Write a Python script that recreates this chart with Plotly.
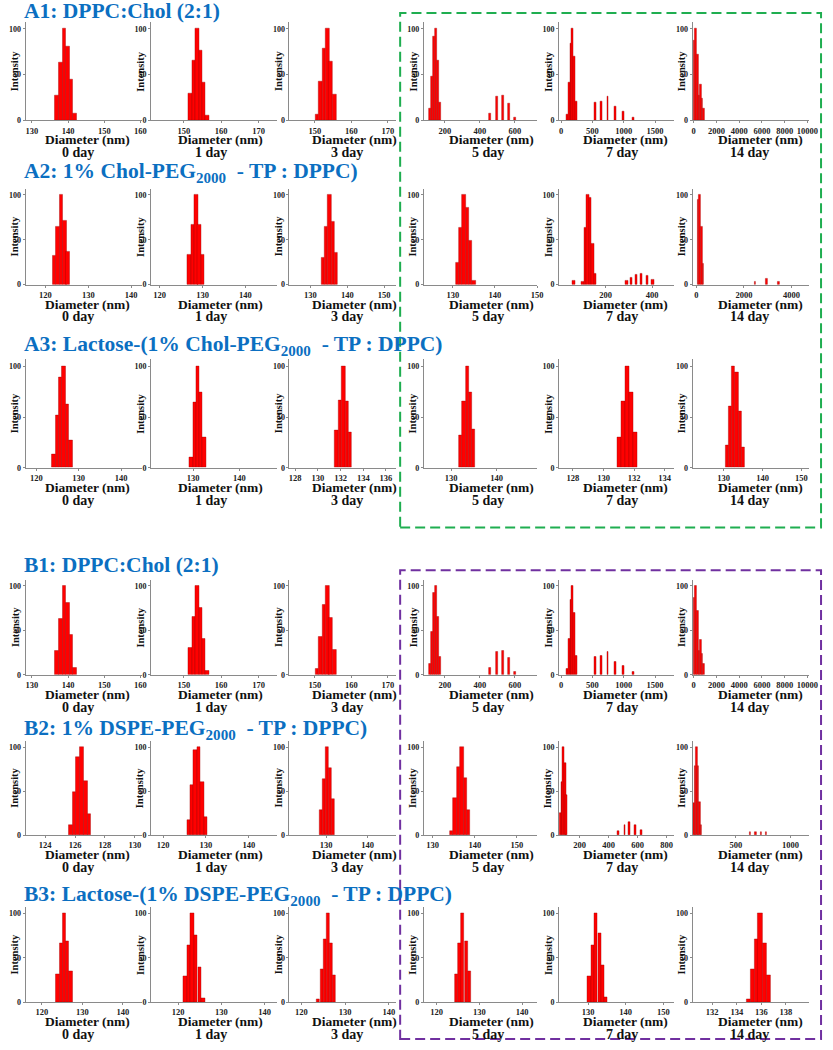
import plotly.graph_objects as go

# ---------------- data ----------------
DAYS = ["0 day", "1 day", "3 day", "5 day", "7 day", "14 day"]

# A1 / B1: DPPC:Chol (2:1)
A1_centers = [
    [136.9, 137.9, 138.9, 139.9, 140.9, 141.9],
    [151.75, 152.65, 153.55, 154.45, 155.35, 156.25],
    [150.6, 151.5, 152.4, 153.4, 154.3, 155.3],
    [112, 124, 136, 148, 160, 172, 460, 497, 531, 565, 600],
    [95, 124, 153, 182, 211, 240, 545, 640, 745, 860, 995, 1145],
    [40, 180, 320, 460, 600, 740, 880],
]
A1_heights = [
    [27, 63, 100, 81, 45, 8],
    [30, 65, 100, 76, 41, 5],
    [7, 43, 79, 100, 64, 28],
    [13, 48, 92, 100, 65, 20, 8, 26, 27, 19, 3],
    [7, 41, 84, 100, 70, 21, 20, 21, 26, 15, 10, 3],
    [87, 100, 72, 27, 39, 24, 13],
]
A1_binw = [1.0, 0.9, 0.95, 12, 30, 140]
A1_ticks = [[130, 140, 150, 160], [150, 160, 170], [150, 160, 170],
            [200, 400, 600], [0, 500, 1000, 1500], [0, 2000, 4000, 6000, 8000, 10000]]
A1_ranges = [[128.3, 160.5], [141.3, 174.8], [143, 172.3],
             [80, 730], [-30, 1800], [-100, 10150]]

# A2: 1% Chol-PEG2000 - TP : DPPC
A2_centers = [
    [122.1, 122.9, 123.7, 124.5, 125.2],
    [126.9, 127.7, 128.5, 129.2, 130.0],
    [133.4, 134.3, 135.2, 136.1, 137.0],
    [131.0, 131.8, 132.6, 133.4, 134.2, 135.0],
    [62, 101, 112, 123, 134, 145, 155, 291, 310, 331, 354, 379, 404],
    [70, 140, 210, 280, 2470, 2940, 3450],
]
A2_heights = [
    [32, 65, 100, 71, 37],
    [33, 67, 100, 67, 33],
    [30, 65, 100, 70, 36],
    [25, 63, 100, 86, 49, 4],
    [4, 3, 64, 100, 97, 46, 12, 5, 8, 11, 12, 10, 6],
    [95, 100, 65, 24, 3, 7, 3],
]
A2_binw = [0.8, 0.78, 0.9, 0.8, 11, 80]
A2_ticks = [[120, 130, 140], [120, 130, 140], [130, 140, 150],
            [130, 140, 150], [200, 400], [0, 2000, 4000]]
A2_ranges = [[115.4, 142.6], [118, 147.3], [124.3, 153.3],
             [123.1, 150.1], [0, 494], [-160, 4750]]

# A3: Lactose-(1% Chol-PEG2000 - TP : DPPC)
A3_centers = [
    [124.1, 124.9, 125.7, 126.5, 127.3, 128.1],
    [129.6, 130.3, 131.0, 131.7, 132.4],
    [131.65, 131.95, 132.25, 132.55, 132.85],
    [132.1, 132.8, 133.5, 134.2, 134.9],
    [131.05, 131.3, 131.55, 131.8, 132.05],
    [130.8, 131.6, 132.5, 133.3, 134.2, 135.0],
]
A3_heights = [
    [13, 52, 89, 100, 63, 27],
    [10, 65, 100, 74, 30],
    [37, 67, 100, 66, 35],
    [32, 66, 100, 74, 38],
    [30, 66, 100, 74, 35],
    [22, 61, 100, 94, 56, 20],
]
A3_binw = [0.8, 0.7, 0.29, 0.7, 0.25, 0.85]
A3_ticks = [[120, 130, 140], [130, 140], [128, 130, 132, 134, 136],
            [130, 140], [128, 130, 132, 134], [130, 140, 150]]
A3_ranges = [[117.5, 145], [121, 148], [127.5, 136.9],
             [124, 149], [127.1, 134.6], [122, 152]]

# B2: 1% DSPE-PEG2000 - TP : DPPC
B2_centers = [
    [125.7, 125.95, 126.2, 126.45, 126.7, 126.95],
    [125.9, 126.7, 127.5, 128.3, 129.1, 129.9],
    [128.7, 129.5, 130.2, 131.0, 131.7],
    [134.5, 135.3, 136.1, 136.9, 137.7, 138.5],
    [66, 77, 88, 99, 110, 468, 511, 545, 584, 623],
    [112, 126, 140, 154, 168, 182, 630, 680, 730, 775],
]
B2_heights = [
    [11, 49, 89, 100, 62, 24],
    [17, 57, 97, 100, 60, 20],
    [28, 64, 100, 76, 41],
    [5, 42, 77, 100, 65, 29],
    [25, 60, 100, 82, 46, 5, 12, 15, 12, 6],
    [37, 79, 100, 79, 38, 11, 3, 4, 4, 3],
]
B2_binw = [0.25, 0.8, 0.76, 0.8, 12, 14]
B2_ticks = [[124, 126, 128, 130], [120, 130, 140], [130, 140],
            [130, 140, 150], [200, 400, 600, 800], [500, 1000]]
B2_ranges = [[122.7, 130.5], [117.2, 146.5], [121.2, 146.9],
             [127.9, 154.9], [60, 850], [104, 1170]]

# B3: Lactose-(1% DSPE-PEG2000 - TP : DPPC)
B3_centers = [
    [123.9, 124.7, 125.5, 126.3, 127.1],
    [121.7, 122.5, 123.3, 124.1, 125.0, 125.8],
    [123.9, 124.7, 125.4, 126.1, 126.8, 127.5],
    [124.6, 125.4, 126.1, 126.9, 127.6],
    [130.3, 131.2, 132.1, 133.0, 133.8, 134.7],
    [135.0, 135.3, 135.6, 135.9, 136.3, 136.6],
]
B3_heights = [
    [32, 66, 100, 69, 35],
    [29, 64, 100, 76, 40, 5],
    [3, 37, 71, 100, 66, 31],
    [32, 66, 100, 69, 35],
    [29, 64, 100, 78, 42, 6],
    [3, 37, 71, 100, 66, 31],
]
B3_binw = [0.8, 0.82, 0.72, 0.76, 0.87, 0.33]
B3_ticks = [[120, 130, 140], [120, 130, 140], [120, 130, 140],
            [120, 130, 140], [130, 140, 150], [132, 134, 136, 138]]
B3_ranges = [[116.0, 144.8], [113.8, 142.8], [117.3, 141.7],
             [117, 143.6], [122.3, 152.8], [130.4, 139.9]]

ROWS = [
    ("A1: DPPC:Chol (2:1)", A1_centers, A1_heights, A1_binw, A1_ticks, A1_ranges),
    ("A2: 1% Chol-PEG<sub>2000</sub>\u00a0 - TP : DPPC)", A2_centers, A2_heights, A2_binw, A2_ticks, A2_ranges),
    ("A3: Lactose-(1% Chol-PEG<sub>2000</sub>\u00a0 - TP : DPPC)", A3_centers, A3_heights, A3_binw, A3_ticks, A3_ranges),
    ("B1: DPPC:Chol (2:1)", A1_centers, A1_heights, A1_binw, A1_ticks, A1_ranges),
    ("B2: 1% DSPE-PEG<sub>2000</sub>\u00a0 - TP : DPPC)", B2_centers, B2_heights, B2_binw, B2_ticks, B2_ranges),
    ("B3: Lactose-(1% DSPE-PEG<sub>2000</sub>\u00a0 - TP : DPPC)", B3_centers, B3_heights, B3_binw, B3_ticks, B3_ranges),
]

# ---------------- layout geometry (pixels) ----------------
W, H = 833, 1050
COL_PX = [(25, 143), (152, 279), (292, 400), (428, 543), (565, 681), (700, 818)]
ROW_PX = [(22.5, 121), (189.5, 286), (361, 470), (582.5, 678), (744.5, 839), (911.5, 1007)]
TITLE_Y = [11, 173, 347, 568, 733, 900]
DIAM_X = [88, 222, 358, 496, 632, 769]
DAY_X = [78, 213, 350, 493, 629, 758]

SERIF = "Liberation Serif, Times New Roman, serif"
BLUE = "#0b6fc1"
AXC = "#8a8a8a"

fig = go.Figure()
annotations = []
layout = {}

for r, (title, cents, hts, binw, ticks, ranges) in enumerate(ROWS):
    y0, y1 = ROW_PX[r]
    annotations.append(dict(
        text="<b>%s</b>" % title, x=21 / W, y=1 - TITLE_Y[r] / H,
        xref="paper", yref="paper", xanchor="left", yanchor="middle",
        showarrow=False, font=dict(family=SERIF, size=21.5, color=BLUE)))
    for c in range(6):
        k = r * 6 + c + 1
        sx = "" if k == 1 else str(k)
        x0, x1 = COL_PX[c]
        fig.add_trace(go.Bar(
            x=cents[c], y=hts[c], width=binw[c],
            marker=dict(color="#ff0000", line=dict(color="#a00000", width=0.4)),
            xaxis="x" + sx, yaxis="y" + sx, showlegend=False, hoverinfo="x+y"))
        layout["xaxis" + sx] = dict(
            domain=[x0 / W, x1 / W], anchor="y" + sx, range=ranges[c],
            tickvals=ticks[c], tickformat="d", showline=True, linecolor=AXC, linewidth=1,
            ticks="outside", ticklen=2, tickcolor=AXC, showgrid=False, zeroline=False,
            tickfont=dict(family=SERIF, size=8.5, color="#222", weight="bold"))
        layout["yaxis" + sx] = dict(
            domain=[1 - y1 / H, 1 - y0 / H], anchor="x" + sx, range=[0, 107],
            tickvals=[0, 50, 100], showline=True, linecolor=AXC, linewidth=1,
            ticks="outside", ticklen=2, tickcolor=AXC, showgrid=False, zeroline=False,
            tickfont=dict(family=SERIF, size=8, color="#222", weight="bold"))
        annotations.append(dict(
            text="<b>Intensity</b>", x=(x0 - 11) / W, y=1 - (y0 + y1) / 2 / H,
            xref="paper", yref="paper", xanchor="center", yanchor="middle",
            textangle=-90, showarrow=False,
            font=dict(family=SERIF, size=10.5, color="#111")))
        annotations.append(dict(
            text="<b>Diameter (nm)</b>", x=DIAM_X[c] / W, y=1 - (y1 + 19.5) / H,
            xref="paper", yref="paper", xanchor="center", yanchor="middle",
            showarrow=False, font=dict(family=SERIF, size=13.5, color="#111")))
        annotations.append(dict(
            text="<b>%s</b>" % DAYS[c], x=DAY_X[c] / W, y=1 - (y1 + 32.5) / H,
            xref="paper", yref="paper", xanchor="center", yanchor="middle",
            showarrow=False, font=dict(family=SERIF, size=14, color="#111")))

shapes = [
    dict(type="rect", xref="paper", yref="paper",
         x0=404 / W, x1=830 / W, y0=1 - 530 / H, y1=1 - 13 / H,
         line=dict(color="#1fae50", width=2, dash="10px,5px")),
    dict(type="rect", xref="paper", yref="paper",
         x0=404 / W, x1=830 / W, y0=1 - 1044 / H, y1=1 - 573 / H,
         line=dict(color="#7030a0", width=2, dash="10px,5px")),
]

fig.update_layout(
    width=W, height=H, margin=dict(l=0, r=0, t=0, b=0),
    paper_bgcolor="white", plot_bgcolor="white",
    annotations=annotations, shapes=shapes, bargap=0,
    **layout)

# the page's default 8px body margin would shift everything
fig.write_html("out.html", config={"displayModeBar": False},
               post_script="document.body.style.margin='0';document.body.style.overflow='hidden';")
